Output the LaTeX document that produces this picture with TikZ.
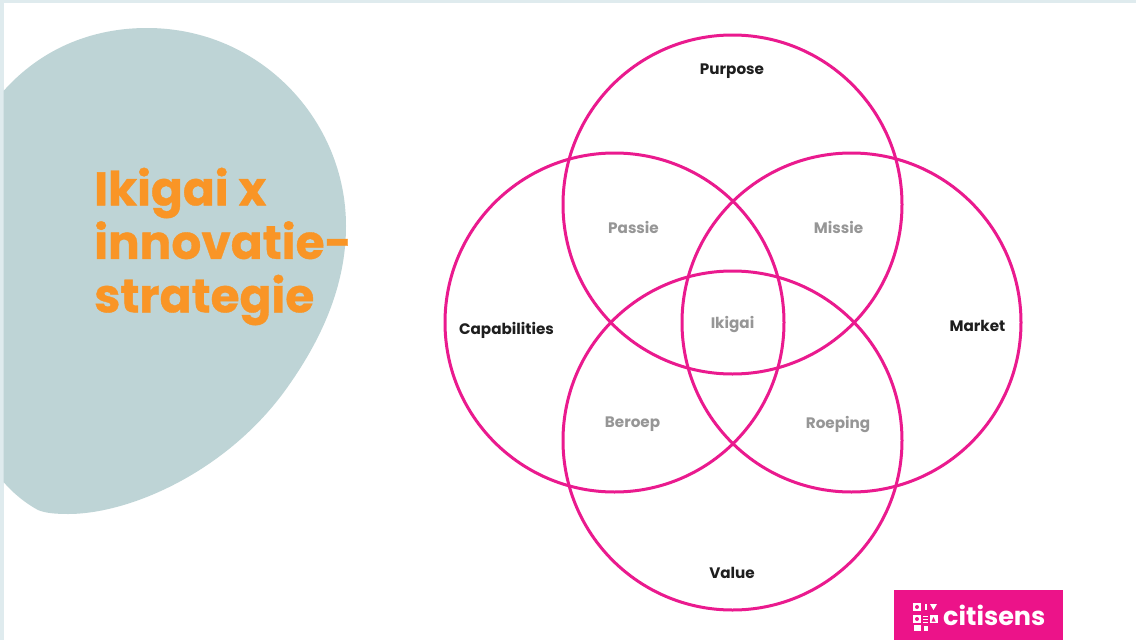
\documentclass[tikz,border=0pt]{standalone}
\usepackage{fontspec}
\setmainfont{Poppins}
\newfontfamily\titlefam[BoldFeatures={FakeBold=0.7}]{Poppins}
\definecolor{blobc}{HTML}{BED4D6}
\definecolor{framec}{HTML}{DFEBEE}
\definecolor{orangec}{HTML}{F99526}
\definecolor{pinkc}{HTML}{EA1A8E}
\definecolor{logoc}{HTML}{EC1389}
\definecolor{darkc}{HTML}{1E1E1E}
\definecolor{greyc}{HTML}{969696}
\tikzset{
  venn/.style={circle,draw=pinkc,line width=3pt,minimum size=339pt,inner sep=0pt,fill=none},
  outer/.style={font=\bfseries\fontsize{15.2}{17}\selectfont,text=darkc,inner sep=0pt},
  inner/.style={font=\bfseries\fontsize{15.2}{17}\selectfont,text=greyc,inner sep=0pt},
  logoicon/.style={fill=white,draw=none}
}
\begin{document}
\begin{tikzpicture}[x=1pt,y=-1pt]
\useasboundingbox (0,0) rectangle (1136,640);
\fill[white] (0,0) rectangle (1136,640);
\fill[framec] (0,0) rectangle (1136,3);
\fill[framec] (0,0) rectangle (3.5,640);
% blob
\fill[blobc] (3.5,91) .. controls (40,50) and (90,28) .. (147,28)
  .. controls (260,28) and (346,120) .. (346,226)
  .. controls (346,285) and (322,340) .. (284,392)
  .. controls (225,472) and (130,514) .. (68,514)
  .. controls (55,514) and (45,513) .. (38,510)
  .. controls (25,503) and (13,493) .. (3.5,482) -- cycle;
\node[anchor=west,inner sep=0pt,align=left,text=orangec,font=\titlefam\bfseries\fontsize{47}{53.5}\selectfont] (title) at (94,246.5)
  {Ikigai x\\innovatie-\\strategie};
% circles
\node[venn] (top) at (732.5,204.5) {};
\node[venn] (left) at (614.5,322.5) {};
\node[venn] (right) at (851.5,322.5) {};
\node[venn] (bottom) at (732.5,440.5) {};
% labels
\node[outer] (purpose) at (732,71.5) {Purpose};
\node[outer] (capabilities) at (506.5,330) {Capabilities};
\node[outer] (market) at (977.5,326) {Market};
\node[outer] (value) at (732,572.5) {Value};
\node[inner] (passie) at (633.5,227.5) {Passie};
\node[inner] (missie) at (838.5,227.5) {Missie};
\node[inner] (ikigai) at (732.5,324) {Ikigai};
\node[inner] (beroep) at (632.5,424) {Beroep};
\node[inner] (roeping) at (838,424) {Roeping};
% logo
\fill[logoc] (894,590) rectangle (1063,640);
\node[anchor=west,inner sep=0pt,text=white,font=\bfseries\fontsize{25.5}{28}\selectfont] (logotext) at (943,615.5)
  {citisens};
\fill[logoicon] (913,603) rectangle (921,611);
\fill[logoicon] (925,604) rectangle (926.5,610);
\fill[logoicon] (930,604) -- (937,604) -- (933.5,610) -- cycle;
\fill[logoicon] (913,615) rectangle (921,623);
\fill[logoicon] (923,615.5) rectangle (928,617);
\fill[logoicon] (923,618.5) rectangle (928,620);
\fill[logoicon] (923,621.5) rectangle (928,623);
\fill[logoicon] (929.5,615) rectangle (937.5,623);
\fill[logoicon] (914,625) rectangle (921,631);
\fill[logoicon] (924,626) rectangle (928,631);
\fill[logoc] (917,607) circle (2);
\fill[logoc] (917,619) circle (2);
\fill[logoc] (931.5,621.5) -- (933.5,617) -- (935.5,621.5) -- cycle;
\end{tikzpicture}
\end{document}
